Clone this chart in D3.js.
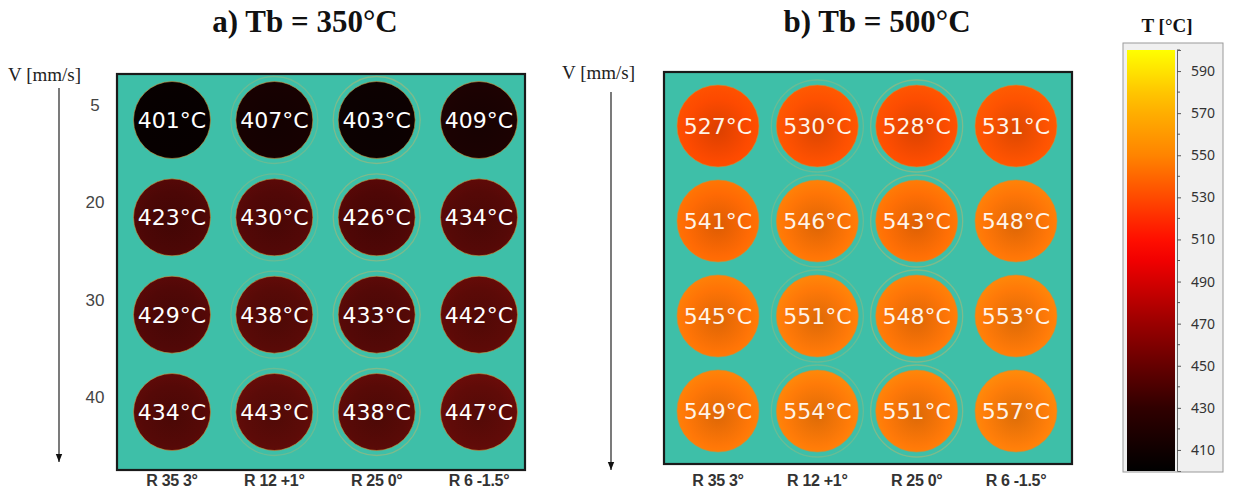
<!DOCTYPE html>
<html>
<head>
<meta charset="utf-8">
<script src="https://cdn.jsdelivr.net/npm/d3@7"></script>
<style>
  body { margin: 0; background: #fff; }
  svg { display: block; }
</style>
</head>
<body>
<svg id="chart"></svg>
<script>
// rows = feed speed V [mm/s], columns = tool
let speeds = ["5", "20", "30", "40"];
let tools = ["R 35 3°", "R 12 +1°", "R 25 0°", "R 6 -1.5°"];

let tempsA = [
  [401, 407, 403, 409],
  [423, 430, 426, 434],
  [429, 438, 433, 442],
  [434, 443, 438, 447]
];
let tempsB = [
  [527, 530, 528, 531],
  [541, 546, 543, 548],
  [545, 551, 548, 553],
  [549, 554, 551, 557]
];

let barTicks = [410, 430, 450, 470, 490, 510, 530, 550, 570, 590];
let barMinor = [420, 440, 460, 480, 500, 520, 540, 560, 580, 600];

/***************************/

let width = 1240, height = 494;

let svg = d3.select("#chart")
            .attr("width", width)
            .attr("height", height);

let defs = svg.append("defs");

// colour of the thermal image spots
let spotColor = d3.scaleLinear()
  .domain([400, 410, 420, 450, 525, 535, 545, 560])
  .range(["#040000", "#1e0202", "#4a0606", "#620c08", "#fc4600", "#ff5c02", "#ff7406", "#ff800a"]);

// colour bar (black -> red -> orange -> yellow)
let barColor = d3.scaleLinear()
  .domain([400, 430, 470, 505, 530, 550, 575, 600])
  .range(["#000000", "#300000", "#9a0000", "#ff0000", "#ff4a00", "#ff8400", "#ffb800", "#ffff00"]);

let panels = [
  {id: "a", title: "a) Tb = 350°C", titleX: 305, temps: tempsA, showRows: true,
   box: {x: 117, y: 74, w: 408, h: 396}, cols: [172, 479], rows: [120, 412], r: 38.5,
   vx: 8, vy: 81, arrowX: 59, arrowY: [88, 462], text: "#ffffff"},
  {id: "b", title: "b) Tb = 500°C", titleX: 877, temps: tempsB, showRows: false,
   box: {x: 664, y: 72, w: 408, h: 392}, cols: [718, 1016], rows: [126, 411], r: 41,
   vx: 562, vy: 79, arrowX: 611, arrowY: [92, 470], text: "#fff4e8"}
];

defs.append("marker")
    .attr("id", "arrow")
    .attr("viewBox", "0 0 10 10")
    .attr("refX", 10).attr("refY", 5)
    .attr("markerWidth", 7).attr("markerHeight", 7)
    .attr("orient", "auto")
  .append("path")
    .attr("d", "M0,1 L10,5 L0,9 Z")
    .attr("fill", "#111");

panels.forEach(p => {
  let xScale = d3.scalePoint().domain(tools).range(p.cols);
  let yScale = d3.scalePoint().domain(speeds).range(p.rows);

  let g = svg.append("g").attr("class", "panel-" + p.id);

  g.append("text")
    .attr("x", p.titleX).attr("y", 32)
    .attr("text-anchor", "middle")
    .style("font-family", "'Liberation Serif', 'Times New Roman', serif")
    .style("font-weight", "bold")
    .style("font-size", "31px")
    .attr("fill", "#111")
    .text(p.title);

  g.append("text")
    .attr("x", p.vx).attr("y", p.vy)
    .style("font-family", "'Liberation Serif', 'Times New Roman', serif")
    .style("font-size", "19px")
    .attr("fill", "#222")
    .text("V [mm/s]");

  g.append("line")
    .attr("x1", p.arrowX).attr("x2", p.arrowX)
    .attr("y1", p.arrowY[0]).attr("y2", p.arrowY[1])
    .attr("stroke", "#222").attr("stroke-width", 1.2)
    .attr("marker-end", "url(#arrow)");

  g.append("rect")
    .attr("x", p.box.x).attr("y", p.box.y)
    .attr("width", p.box.w).attr("height", p.box.h)
    .attr("fill", "#3ebfa8")
    .attr("stroke", "#1a1a1a").attr("stroke-width", 2.2);

  if (p.showRows) {
    g.selectAll(".row-label")
      .data(speeds)
      .join("text")
        .attr("class", "row-label")
        .attr("x", 95)
        .attr("y", d => yScale(d) - 9)
        .attr("text-anchor", "middle")
        .style("font-family", "'Liberation Sans', Arial, sans-serif")
        .style("font-size", "17px")
        .attr("fill", "#444")
        .text(d => d);
  }

  g.selectAll(".col-label")
    .data(tools)
    .join("text")
      .attr("class", "col-label")
      .attr("x", d => xScale(d))
      .attr("y", 486)
      .attr("text-anchor", "middle")
      .style("font-family", "'Liberation Sans', Arial, sans-serif")
      .style("font-weight", "bold")
      .style("font-size", "16px")
      .style("letter-spacing", "-0.3px")
      .attr("fill", "#333")
      .text(d => d);

  let cells = [];
  p.temps.forEach((row, i) => row.forEach((t, j) => cells.push({speed: speeds[i], tool: tools[j], t: t, i: i, j: j})));

  cells.forEach(c => {
    let base = d3.color(spotColor(c.t));
    let grad = defs.append("radialGradient")
      .attr("id", `g-${p.id}-${c.i}-${c.j}`)
      .attr("cx", "50%").attr("cy", "55%").attr("r", "55%");
    grad.append("stop").attr("offset", "0%").attr("stop-color", base.darker(0.4));
    grad.append("stop").attr("offset", "70%").attr("stop-color", base);
    grad.append("stop").attr("offset", "100%").attr("stop-color", base.brighter(0.3));
  });

  // faint halo rings around the middle tools
  g.selectAll(".halo")
    .data(cells.filter(c => c.j === 1 || c.j === 2))
    .join("circle")
      .attr("class", "halo")
      .attr("cx", d => xScale(d.tool))
      .attr("cy", d => yScale(d.speed))
      .attr("r", p.r + 5)
      .attr("fill", "none")
      .attr("stroke", "#c9b56a")
      .attr("stroke-opacity", d => d.j === 2 ? 0.45 : 0.3)
      .attr("stroke-width", 1.3);

  g.selectAll(".spot")
    .data(cells)
    .join("circle")
      .attr("class", "spot")
      .attr("cx", d => xScale(d.tool))
      .attr("cy", d => yScale(d.speed))
      .attr("r", p.r)
      .attr("fill", d => `url(#g-${p.id}-${d.i}-${d.j})`)
      .attr("stroke", "#c9903a")
      .attr("stroke-opacity", 0.6)
      .attr("stroke-width", 1);

  g.selectAll(".spot-label")
    .data(cells)
    .join("text")
      .attr("class", "spot-label")
      .attr("x", d => xScale(d.tool))
      .attr("y", d => yScale(d.speed))
      .attr("dy", "0.36em")
      .attr("text-anchor", "middle")
      .style("font-family", "'DejaVu Sans', sans-serif")
      .style("font-size", "22px")
      .attr("fill", p.text)
      .text(d => d.t + "°C");
});

// colour bar
let cb = {x: 1127, w: 48, top: 50, bottom: 471};
let cbScale = d3.scaleLinear().domain([400, 600]).range([cb.bottom, cb.top]);

let cbg = svg.append("g").attr("class", "colorbar");

cbg.append("rect")
  .attr("x", 1123).attr("y", 43)
  .attr("width", 100).attr("height", 429)
  .attr("fill", "#f0f0f0")
  .attr("stroke", "#9a9a9a").attr("stroke-width", 1);

let lg = defs.append("linearGradient")
  .attr("id", "cbGrad")
  .attr("x1", 0).attr("y1", 1).attr("x2", 0).attr("y2", 0);
lg.selectAll("stop")
  .data(d3.range(400, 601, 10))
  .join("stop")
    .attr("offset", d => (d - 400) / 200)
    .attr("stop-color", d => barColor(d));

cbg.append("rect")
  .attr("x", cb.x).attr("y", cb.top)
  .attr("width", cb.w).attr("height", cb.bottom - cb.top)
  .attr("fill", "url(#cbGrad)");

let cbAxis = d3.axisRight(cbScale)
  .tickValues(barTicks)
  .tickSize(4)
  .tickPadding(10)
  .tickFormat(d3.format("d"));

let ax = cbg.append("g")
  .attr("transform", `translate(${cb.x + cb.w + 2}, 0)`)
  .call(cbAxis);
ax.select(".domain").attr("stroke", "#666");
ax.selectAll(".tick line").attr("stroke", "#555");
ax.selectAll(".tick text")
  .style("font-family", "'Noto Sans', 'Open Sans', sans-serif")
  .style("font-size", "14px")
  .attr("fill", "#333");

ax.selectAll(".minor")
  .data(barMinor)
  .join("line")
    .attr("class", "minor")
    .attr("x1", 0).attr("x2", 3)
    .attr("y1", d => cbScale(d)).attr("y2", d => cbScale(d))
    .attr("stroke", "#555");

cbg.append("text")
  .attr("x", 1167).attr("y", 32)
  .attr("text-anchor", "middle")
  .style("font-family", "'Liberation Serif', 'Times New Roman', serif")
  .style("font-weight", "bold")
  .style("font-size", "19px")
  .attr("fill", "#111")
  .text("T [°C]");
</script>
</body>
</html>
